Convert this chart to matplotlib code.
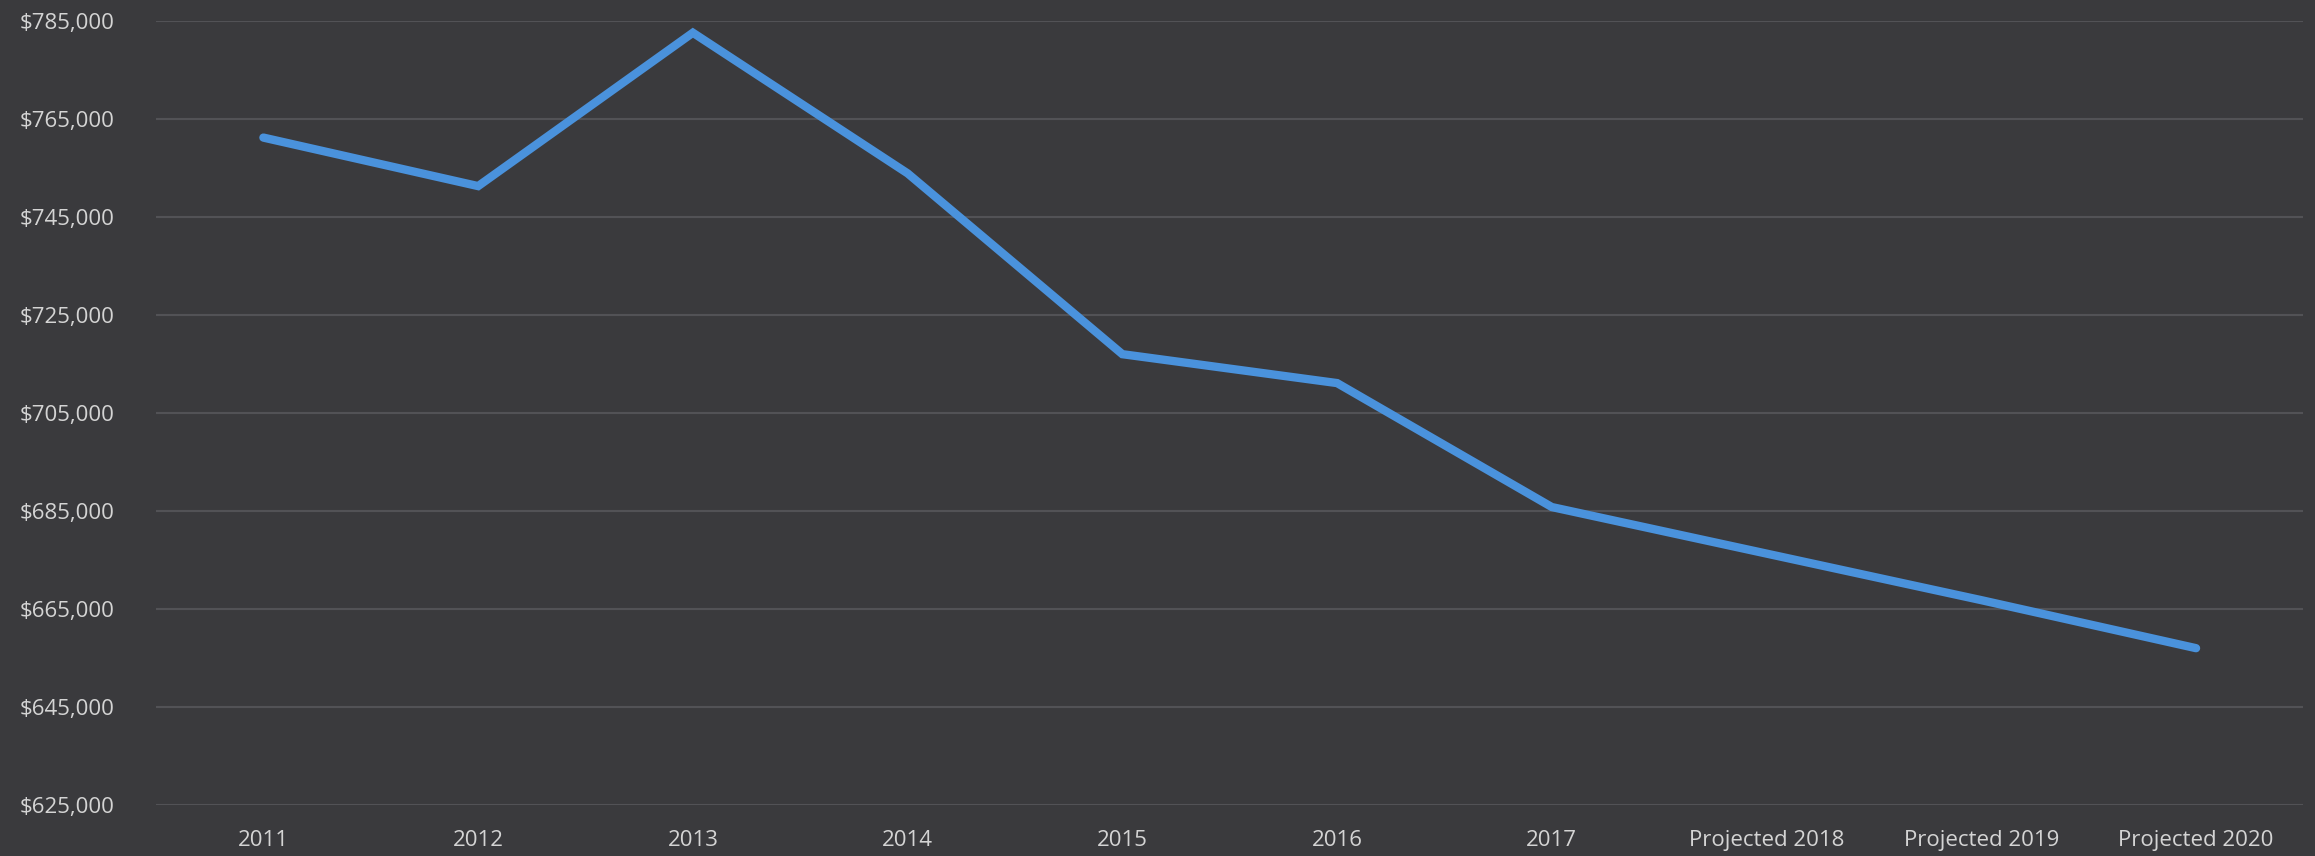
import matplotlib.pyplot as plt
from matplotlib.ticker import FuncFormatter

# Data
years = ['2011', '2012', '2013', '2014', '2015', '2016', '2017',
         'Projected 2018', 'Projected 2019', 'Projected 2020']
values = [761200, 751300, 782600, 753900, 717000, 711100, 685800,
          676300, 666800, 657000]
y_ticks = [625000, 645000, 665000, 685000, 705000, 725000, 745000, 765000, 785000]

bg = '#3a3a3d'
text_color = '#d4d4d4'

fig = plt.figure(figsize=(23.15, 8.56), dpi=100, facecolor=bg)
ax = fig.add_axes([0.0674, 0.0596, 0.9276, 0.9159], facecolor=bg)

x = range(len(years))
ax.plot(x, values, color='#4a92dc', linewidth=6, solid_capstyle='round',
        solid_joinstyle='miter', zorder=3)

ax.set_xlim(-0.5, len(years) - 0.5)
ax.set_ylim(625000, 785000)
ax.set_xticks(list(x))
ax.set_xticklabels(years)
ax.set_yticks(y_ticks)
ax.yaxis.set_major_formatter(FuncFormatter(lambda v, p: '${:,.0f}'.format(v)))

ax.grid(axis='y', color='#525256', linewidth=1.5)
ax.set_axisbelow(True)
for s in ax.spines.values():
    s.set_visible(False)

ax.tick_params(axis='both', length=0, colors=text_color, labelsize=16)
ax.tick_params(axis='x', pad=18)
ax.tick_params(axis='y', pad=30)
for lab in ax.get_xticklabels() + ax.get_yticklabels():
    lab.set_family('Open Sans')

fig.savefig('out.png', dpi=100, facecolor=bg)
